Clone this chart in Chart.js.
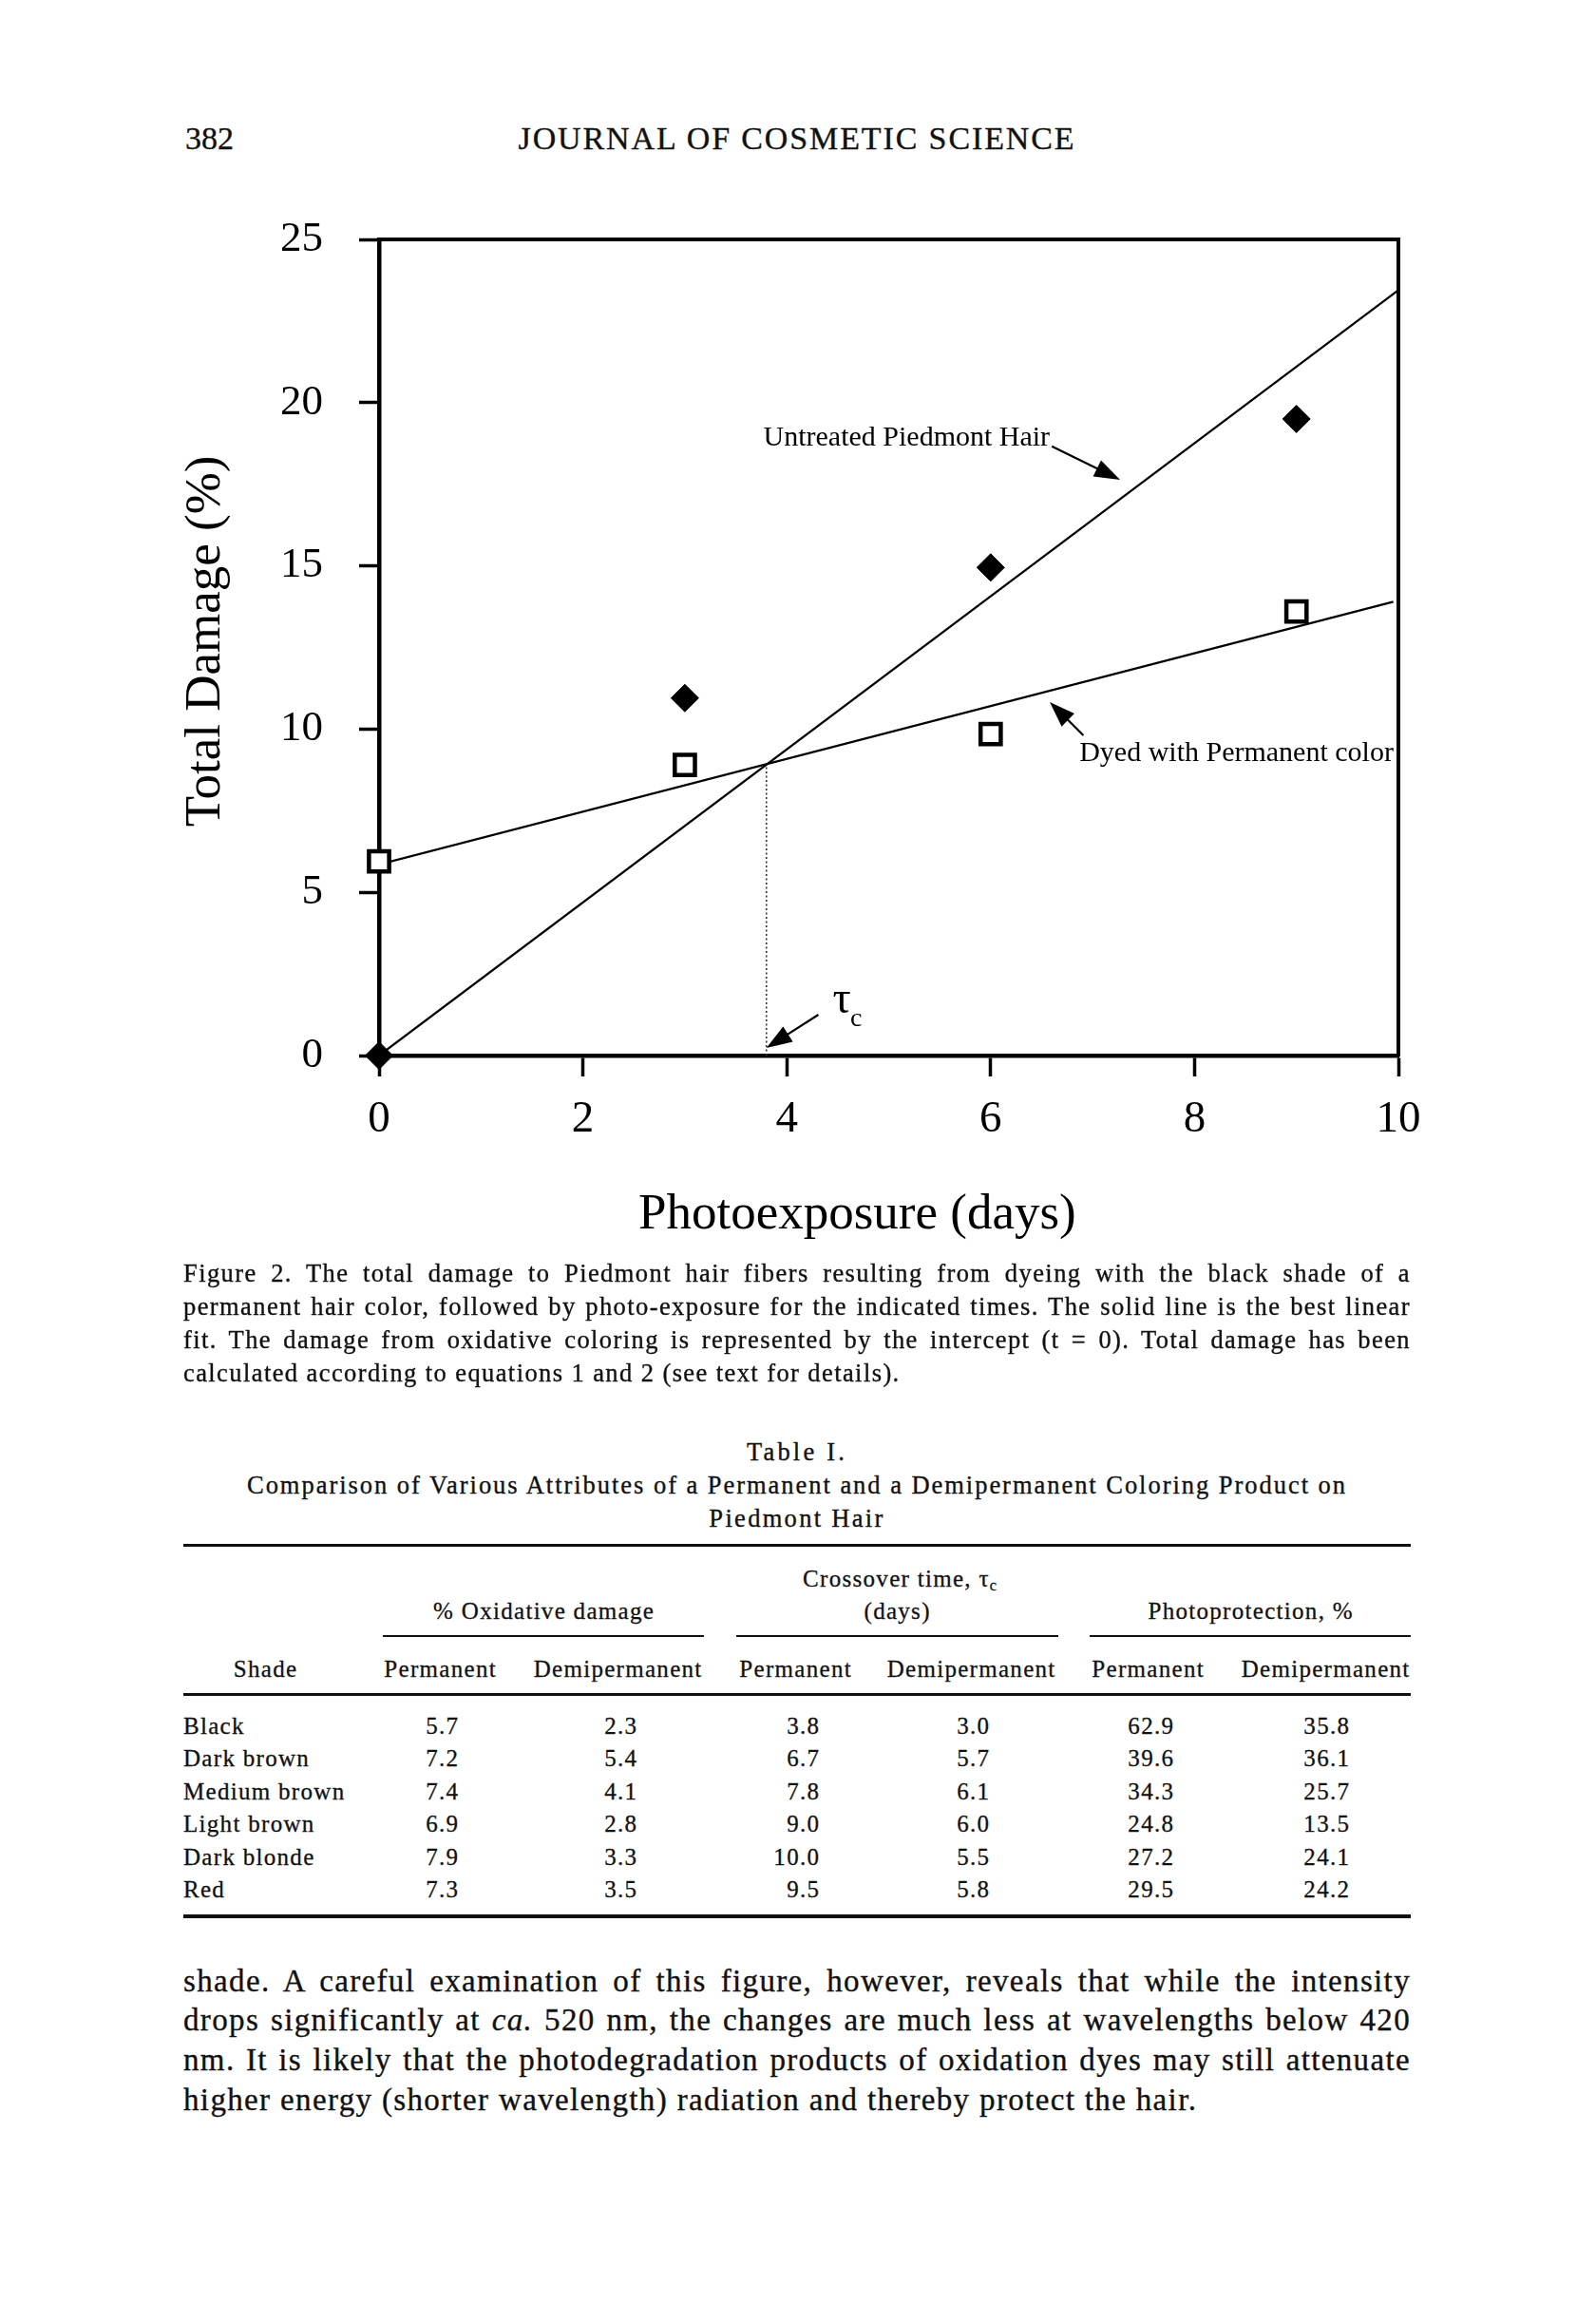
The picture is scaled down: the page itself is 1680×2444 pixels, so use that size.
<!DOCTYPE html>
<html>
<head>
<meta charset="utf-8">
<script src="https://cdn.jsdelivr.net/npm/chart.js@4.4.0/dist/chart.umd.min.js"></script>
<style>
  html, body { margin: 0; padding: 0; background: #fff; }
  body { width: 1680px; height: 2444px; position: relative; overflow: hidden; color: #111;
         font-family: 'Liberation Serif', 'Times New Roman', serif; }
  .abs { position: absolute; white-space: nowrap; }
  .ink { -webkit-text-stroke: 0.35px #111; }
  #chartBox { position: absolute; left: 0; top: 0; width: 1680px; height: 1330px; }
  .line { position: absolute; left: 193px; width: 1292px; white-space: nowrap;
          text-align: justify; text-align-last: justify; -webkit-text-stroke: 0.35px #111; }
  .line.last { text-align-last: left; }
  .line.measure { text-align: left; text-align-last: left; }
  .center { position: absolute; left: 193px; width: 1292px; text-align: center; white-space: nowrap;
            -webkit-text-stroke: 0.35px #111; }
  .cap { font-size: 26.5px; line-height: 35px; }
  .para { font-size: 33px; line-height: 41.7px; }
  .rule { position: absolute; background: #111; }
  .cell { position: absolute; font-size: 25px; line-height: 25px; letter-spacing: 1.3px; white-space: nowrap;
          -webkit-text-stroke: 0.3px #111; }
  .cell sub { font-size: 16px; vertical-align: -4px; line-height: 0; }
</style>
</head>
<body>

<div class="abs ink" style="left:195px; top:128.5px; font-size:34px; line-height:34px;">382</div>
<div class="center fit" data-w="585" style="top:128.5px; font-size:34px; line-height:34px;"><span>JOURNAL OF COSMETIC SCIENCE</span></div>

<div id="chartBox"><canvas id="chart" width="1680" height="1330"></canvas></div>

<div class="block" data-w="1265">
  <div class="line cap" style="top:1322.6px"><span>Figure 2. The total damage to Piedmont hair fibers resulting from dyeing with the black shade of a</span></div>
  <div class="line cap" style="top:1357.6px"><span>permanent hair color, followed by photo-exposure for the indicated times. The solid line is the best linear</span></div>
  <div class="line cap" style="top:1392.6px"><span>fit. The damage from oxidative coloring is represented by the intercept (t = 0). Total damage has been</span></div>
  <div class="line cap last" style="top:1427.6px"><span>calculated according to equations 1 and 2 (see text for details).</span></div>
</div>

<div class="center cap fit" data-w="103" style="top:1510.6px"><span>Table I.</span></div>
<div class="center cap fit" data-w="1156" style="top:1545.6px"><span>Comparison of Various Attributes of a Permanent and a Demipermanent Coloring Product on</span></div>
<div class="center cap fit" data-w="183" style="top:1580.6px"><span>Piedmont Hair</span></div>

<div class="rule" style="left:193px; width:1292px; top:1624.5px; height:3px;"></div>
<div class="rule" style="left:403px; width:338px; top:1721px; height:2px;"></div>
<div class="rule" style="left:775px; width:339px; top:1721px; height:2px;"></div>
<div class="rule" style="left:1147px; width:338px; top:1721px; height:2px;"></div>
<div class="rule" style="left:193px; width:1292px; top:1782px; height:2.5px;"></div>
<div class="rule" style="left:193px; width:1292px; top:2015px; height:3.5px;"></div>

<div class="block" data-w="1268">
  <div class="line para" style="top:2064.7px"><span>shade. A careful examination of this figure, however, reveals that while the intensity</span></div>
  <div class="line para" style="top:2106.4px"><span>drops significantly at <i>ca.</i> 520 nm, the changes are much less at wavelengths below 420</span></div>
  <div class="line para" style="top:2148.1px"><span>nm. It is likely that the photodegradation products of oxidation dyes may still attenuate</span></div>
  <div class="line para last" style="top:2189.8px"><span>higher energy (shorter wavelength) radiation and thereby protect the hair.</span></div>
</div>

<script>
// Figure 2 data
const days = [0, 3, 6, 9];
const untreated = [0, 10.95, 14.95, 19.5];
const dyed = [5.95, 8.9, 9.85, 13.6];

// best linear fits (end points)
const untreatedFitDays = [0, 10];
const untreatedFit = [0, 23.45];
const dyedFitDays = [0, 9.95];
const dyedFit = [5.85, 13.9];

// crossover time tau_c
const crossDays = [3.8, 3.8];
const crossDamage = [0, 8.93];

const xTicks = [0, 2, 4, 6, 8, 10];
const yTicks = [0, 5, 10, 15, 20, 25];

// Table I
const shades = ['Black', 'Dark brown', 'Medium brown', 'Light brown', 'Dark blonde', 'Red'];
const oxPerm = ['5.7', '7.2', '7.4', '6.9', '7.9', '7.3'];
const oxDemi = ['2.3', '5.4', '4.1', '2.8', '3.3', '3.5'];
const tauPerm = ['3.8', '6.7', '7.8', '9.0', '10.0', '9.5'];
const tauDemi = ['3.0', '5.7', '6.1', '6.0', '5.5', '5.8'];
const photoPerm = ['62.9', '39.6', '34.3', '24.8', '27.2', '29.5'];
const photoDemi = ['35.8', '36.1', '25.7', '13.5', '24.1', '24.2'];

const serif = "'Liberation Serif', 'Times New Roman', serif";

function pairs(xs, ys) {
    return xs.map((v, i) => ({x: v, y: ys[i]}));
}

// labels and arrows inside the plot, in data units
const notes = [
    {text: 'Untreated Piedmont Hair', x: 3.77, y: 18.92, align: 'left', size: 30},
    {text: 'Dyed with Permanent color', x: 6.87, y: 9.25, align: 'left', size: 30},
    {text: 'τ', x: 4.54, y: 1.69, align: 'center', size: 48},
    {text: 'c', x: 4.68, y: 1.11, align: 'center', size: 28}
];
const arrows = [
    {from: [6.60, 18.66], to: [7.27, 17.64]},
    {from: [6.91, 9.81], to: [6.58, 10.83]},
    {from: [4.31, 1.25], to: [3.80, 0.23]}
];

function drawArrow(ctx, x1, y1, x2, y2) {
    const a = Math.atan2(y2 - y1, x2 - x1);
    const len = 27, half = 9.5;
    ctx.beginPath();
    ctx.moveTo(x1, y1);
    ctx.lineTo(x2 - Math.cos(a) * len * 0.8, y2 - Math.sin(a) * len * 0.8);
    ctx.stroke();
    ctx.beginPath();
    ctx.moveTo(x2, y2);
    ctx.lineTo(x2 - len * Math.cos(a) + half * Math.sin(a), y2 - len * Math.sin(a) - half * Math.cos(a));
    ctx.lineTo(x2 - len * Math.cos(a) - half * Math.sin(a), y2 - len * Math.sin(a) + half * Math.cos(a));
    ctx.closePath();
    ctx.fill();
}

const notePlugin = {
    id: 'notes',
    afterDatasetsDraw(chart) {
        const ctx = chart.ctx;
        const sx = chart.scales.x, sy = chart.scales.y;
        ctx.save();
        ctx.fillStyle = '#000';
        ctx.strokeStyle = '#000';
        ctx.textBaseline = 'middle';
        notes.forEach(n => {
            ctx.font = n.size + 'px ' + serif;
            ctx.textAlign = n.align;
            ctx.fillText(n.text, sx.getPixelForValue(n.x), sy.getPixelForValue(n.y));
        });
        ctx.lineWidth = 2.2;
        arrows.forEach(a => drawArrow(ctx,
            sx.getPixelForValue(a.from[0]), sy.getPixelForValue(a.from[1]),
            sx.getPixelForValue(a.to[0]), sy.getPixelForValue(a.to[1])));
        ctx.restore();
    }
};

function makeChart() {
    Chart.defaults.color = '#000';
    new Chart(document.getElementById('chart'), {
        type: 'scatter',
        data: {
            datasets: [
                {
                    data: pairs(days, untreated),
                    pointStyle: 'rectRot', pointRadius: 14.5,
                    backgroundColor: '#000', borderColor: '#000', borderWidth: 1,
                    clip: false
                },
                {
                    data: pairs(days, dyed),
                    pointStyle: 'rect', pointRadius: 15,
                    backgroundColor: '#fff', borderColor: '#000', borderWidth: 4.5,
                    clip: false
                },
                {
                    data: pairs(untreatedFitDays, untreatedFit),
                    showLine: true, pointRadius: 0, borderColor: '#000', borderWidth: 2.2
                },
                {
                    data: pairs(dyedFitDays, dyedFit),
                    showLine: true, pointRadius: 0, borderColor: '#000', borderWidth: 2.2
                },
                {
                    data: pairs(crossDays, crossDamage),
                    showLine: true, pointRadius: 0, borderColor: '#333', borderWidth: 1.6,
                    borderDash: [2, 2.5]
                }
            ]
        },
        options: {
            responsive: false,
            animation: false,
            devicePixelRatio: 1,
            events: [],
            layout: {padding: {left: 0, top: 252, right: 208, bottom: 0}},
            plugins: {legend: {display: false}, tooltip: {enabled: false}},
            scales: {
                x: {
                    type: 'linear', position: 'bottom', min: 0, max: 10,
                    afterBuildTicks: s => { s.ticks = xTicks.map(v => ({value: v})); },
                    afterFit: s => { s.height = 219; },
                    grid: {drawOnChartArea: false, drawTicks: true, tickLength: 22,
                           tickWidth: 3.5, tickColor: '#000', color: '#000'},
                    border: {display: true, color: '#000', width: 4.5},
                    ticks: {color: '#000', padding: 22.5, maxRotation: 0,
                            font: {family: serif, size: 47, lineHeight: 1}},
                    title: {display: true, text: 'Photoexposure (days)     ', color: '#000',
                            font: {family: serif, size: 53, lineHeight: 1},
                            padding: {top: 0, bottom: 24.5}}
                },
                y: {
                    type: 'linear', position: 'left', min: 0, max: 25,
                    afterBuildTicks: s => { s.ticks = yTicks.map(v => ({value: v})); },
                    afterFit: s => { s.width = 399; },
                    grid: {drawOnChartArea: false, drawTicks: true, tickLength: 21,
                           tickWidth: 3.5, tickColor: '#000', color: '#000'},
                    border: {display: true, color: '#000', width: 4.5},
                    ticks: {color: '#000', padding: 38,
                            font: {family: serif, size: 45, lineHeight: 1}},
                    title: {display: true, text: ' Total Damage (%)', color: '#000',
                            font: {family: serif, size: 53, lineHeight: 1},
                            padding: {top: 190.5, bottom: 0}}
                },
                x2: {
                    type: 'linear', position: 'top', min: 0, max: 10,
                    afterFit: s => { s.height = 0; },
                    grid: {display: false},
                    border: {display: true, color: '#000', width: 4},
                    ticks: {display: false}
                },
                y2: {
                    type: 'linear', position: 'right', min: 0, max: 25,
                    afterFit: s => { s.width = 0; },
                    grid: {display: false},
                    border: {display: true, color: '#000', width: 4},
                    ticks: {display: false}
                }
            }
        },
        plugins: [notePlugin]
    });
}

// table cells
function cell(html, x, baseline, align) {
    const d = document.createElement('div');
    d.className = 'cell';
    d.innerHTML = html;
    d.style.top = (baseline - 20.94) + 'px';
    if (align === 'left') {
        d.style.left = x + 'px';
    } else if (align === 'right') {
        d.style.left = (x - 300 + 1.3) + 'px';
        d.style.width = '300px';
        d.style.textAlign = 'right';
    } else {
        d.style.left = (x - 300 + 0.65) + 'px';
        d.style.width = '600px';
        d.style.textAlign = 'center';
    }
    document.body.appendChild(d);
}

function makeTable() {
    cell('Crossover time, τ<sub>c</sub>', 947, 1670, 'center');
    cell('% Oxidative damage', 572, 1704, 'center');
    cell('(days)', 944, 1704, 'center');
    cell('Photoprotection, %', 1316, 1704, 'center');
    cell('Shade', 279, 1765, 'center');
    const subCenters = [463, 650, 837, 1022, 1208, 1395];
    subCenters.forEach((c, i) => cell(i % 2 ? 'Demipermanent' : 'Permanent', c, 1765, 'center'));
    const cols = [oxPerm, oxDemi, tauPerm, tauDemi, photoPerm, photoDemi];
    const rights = [482, 670, 862, 1041, 1235, 1420];
    shades.forEach((s, r) => {
        const b = 1825 + r * 34.4;
        cell(s, 193, b, 'left');
        cols.forEach((col, c) => cell(col[r], rights[c], b, 'right'));
    });
}

// letter spacing so lines reach the widths of the printed page
function fitText() {
    document.querySelectorAll('.block').forEach(block => {
        const target = +block.dataset.w;
        const lines = block.querySelectorAll('.line');
        let ls = Infinity;
        lines.forEach(el => {
            el.classList.add('measure');
            el.style.letterSpacing = '0px';
            const sp = el.firstElementChild;
            const w = sp.getBoundingClientRect().width;
            const n = sp.textContent.length;
            if (!el.classList.contains('last')) ls = Math.min(ls, (target - w) / n);
            el.classList.remove('measure');
        });
        lines.forEach(el => { el.style.letterSpacing = Math.max(ls, 0) + 'px'; });
    });
    document.querySelectorAll('.fit').forEach(el => {
        el.style.letterSpacing = '0px';
        const sp = el.firstElementChild;
        const w = sp.getBoundingClientRect().width;
        const n = sp.textContent.length;
        el.style.letterSpacing = Math.max((+el.dataset.w - w) / Math.max(n - 1, 1), 0) + 'px';
    });
}

makeTable();
fitText();
makeChart();
</script>
</body>
</html>
